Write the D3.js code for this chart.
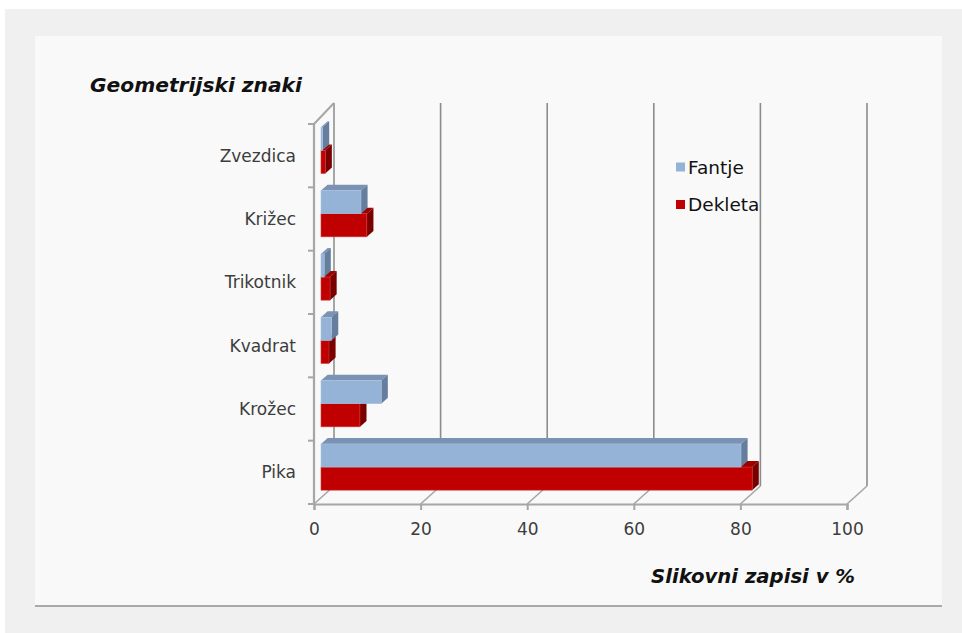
<!DOCTYPE html>
<html>
<head>
<meta charset="utf-8">
<script src="https://cdn.jsdelivr.net/npm/d3@7"></script>
<style>
  html, body { margin: 0; padding: 0; background: #ffffff; }
  svg { display: block; }
</style>
</head>
<body>
<svg id="chart" width="962" height="633"></svg>
<script>
// Category labels, top to bottom
const categories = ["Zvezdica", "Križec", "Trikotnik", "Kvadrat", "Krožec", "Pika"];
// Share of drawings (%) per series
const fantje  = [0.3, 7.5, 0.6, 2.0, 11.3, 78.8];
const dekleta = [0.8, 8.6, 1.7, 1.5, 7.3, 80.9];
const seriesNames = ["Fantje", "Dekleta"];
const xTicks = [0, 20, 40, 60, 80, 100];

const svg = d3.select("#chart");

// Background frames
svg.append("rect").attr("x", 5).attr("y", 9).attr("width", 957).attr("height", 624).attr("fill", "#f0f0f0");
svg.append("rect").attr("x", 35).attr("y", 36).attr("width", 907).attr("height", 570).attr("fill", "#f9f9f9");
svg.append("line").attr("x1", 35).attr("x2", 942).attr("y1", 606).attr("y2", 606)
  .attr("stroke", "#a9a9a9").attr("stroke-width", 2);

// Scales (front plane of the 3D box)
const x = d3.scaleLinear().domain([0, 100]).range([314, 847]);
const yTop = 124, yBot = 504;
const yCat = d3.scaleBand().domain(categories).range([yTop, yBot]).paddingInner(0.27).paddingOuter(0.135);
const yAxisBand = d3.scaleBand().domain(categories).range([yTop, yBot]).padding(0);
const ySeries = d3.scaleBand().domain(seriesNames).range([0, yCat.bandwidth()]).padding(0);

// Depth vector of the box and of the bars within it
const depth = { dx: 20, dy: -18 };
const barFront = 0.35, barBack = 0.68;

const wallColor = "#a6a6a6";
const gridColor = "#8c8c8c";
const labelFont = "DejaVu Sans, Verdana, sans-serif";

// Back-wall gridlines and floor diagonals
const grid = svg.append("g");
xTicks.forEach(t => {
  const fx = x(t);
  grid.append("line")
    .attr("x1", fx + depth.dx).attr("x2", fx + depth.dx)
    .attr("y1", yTop + depth.dy - 3).attr("y2", yBot + depth.dy)
    .attr("stroke", t === 0 ? wallColor : gridColor).attr("stroke-width", t === 0 ? 2 : 1.6);
  grid.append("line")
    .attr("x1", fx).attr("y1", yBot)
    .attr("x2", fx + depth.dx).attr("y2", yBot + depth.dy)
    .attr("stroke", wallColor).attr("stroke-width", 1.6);
});
// Left wall top edge
grid.append("line")
  .attr("x1", x(0)).attr("y1", yTop)
  .attr("x2", x(0) + depth.dx).attr("y2", yTop + depth.dy - 3)
  .attr("stroke", wallColor).attr("stroke-width", 2);

// Vertical (category) axis
const yAxisG = svg.append("g");
yAxisG.append("line").attr("x1", x(0)).attr("x2", x(0)).attr("y1", yTop).attr("y2", yBot)
  .attr("stroke", wallColor).attr("stroke-width", 2.2);
const boundaries = categories.map(c => yAxisBand(c)).concat([yBot]);
boundaries.forEach(b => {
  yAxisG.append("line").attr("x1", x(0) - 6).attr("x2", x(0)).attr("y1", b).attr("y2", b)
    .attr("stroke", wallColor).attr("stroke-width", 2);
});
yAxisG.selectAll("text.cat").data(categories).join("text")
  .attr("class", "cat")
  .attr("x", 296)
  .attr("y", d => yAxisBand(d) + yAxisBand.bandwidth() / 2)
  .attr("dy", "0.35em")
  .attr("text-anchor", "end")
  .attr("font-family", labelFont)
  .attr("font-size", 17)
  .attr("fill", "#3d3d3d")
  .text(d => d);

// Horizontal value axis
const xAxis = d3.axisBottom(x).tickValues(xTicks).tickSize(6).tickPadding(13).tickFormat(d3.format("d"));
const xAxisG = svg.append("g").attr("transform", `translate(0,${yBot})`).call(xAxis);
xAxisG.select(".domain").attr("stroke", wallColor).attr("stroke-width", 2.2);
xAxisG.selectAll(".tick line").attr("stroke", wallColor).attr("stroke-width", 2);
xAxisG.selectAll(".tick text")
  .attr("font-family", labelFont)
  .attr("font-size", 17)
  .attr("fill", "#3d3d3d");

// 3D bars
const colors = {
  Fantje:  { front: "#95b3d7", top: "#7a93b4", side: "#667e9e", edge: "#a9c2df" },
  Dekleta: { front: "#c00000", top: "#9e0000", side: "#7a0000", edge: "#d23a3a" }
};
const fx0 = barFront * depth.dx, fy0 = barFront * depth.dy;
const bdx = (barBack - barFront) * depth.dx, bdy = (barBack - barFront) * depth.dy;

function drawBar(g, cat, name, value) {
  const c = colors[name];
  const x0 = x(0) + fx0, x1 = x(value) + fx0;
  const y0 = yCat(cat) + ySeries(name) + fy0 + 1;
  const y1 = y0 + ySeries.bandwidth();
  const pts = a => a.map(p => p.join(",")).join(" ");
  // top face
  g.append("polygon").attr("points", pts([[x0, y0], [x1, y0], [x1 + bdx, y0 + bdy], [x0 + bdx, y0 + bdy]]))
    .attr("fill", c.top);
  // side face
  g.append("polygon").attr("points", pts([[x1, y0], [x1 + bdx, y0 + bdy], [x1 + bdx, y1 + bdy], [x1, y1]]))
    .attr("fill", c.side);
  // front face
  g.append("rect").attr("x", x0).attr("y", y0).attr("width", Math.max(0, x1 - x0)).attr("height", y1 - y0)
    .attr("fill", c.front).attr("stroke", c.edge).attr("stroke-width", 0.6);
}

const bars = svg.append("g");
categories.forEach((cat, i) => {
  drawBar(bars, cat, "Dekleta", dekleta[i]);
  drawBar(bars, cat, "Fantje", fantje[i]);
});

// Legend
const legend = svg.append("g");
seriesNames.forEach((name, i) => {
  const ly = 167 + i * 37.5;
  legend.append("rect").attr("x", 676).attr("y", ly - 4.5).attr("width", 9).attr("height", 9)
    .attr("fill", colors[name].front);
  legend.append("text").attr("x", 688).attr("y", ly).attr("dy", "0.36em")
    .attr("font-family", labelFont).attr("font-size", 18.5)
    .attr("fill", "#111").text(name);
});

// Titles
svg.append("text").attr("x", 90).attr("y", 92)
  .attr("font-family", "DejaVu Sans, sans-serif").attr("font-style", "italic").attr("font-weight", 600)
  .attr("font-size", 20).attr("fill", "#111")
  .attr("textLength", 212).attr("lengthAdjust", "spacingAndGlyphs")
  .text("Geometrijski znaki");
svg.append("text").attr("x", 651).attr("y", 583)
  .attr("font-family", "DejaVu Sans, sans-serif").attr("font-style", "italic").attr("font-weight", 600)
  .attr("font-size", 20).attr("fill", "#111")
  .attr("textLength", 204).attr("lengthAdjust", "spacingAndGlyphs")
  .text("Slikovni zapisi v %");
</script>
</body>
</html>
